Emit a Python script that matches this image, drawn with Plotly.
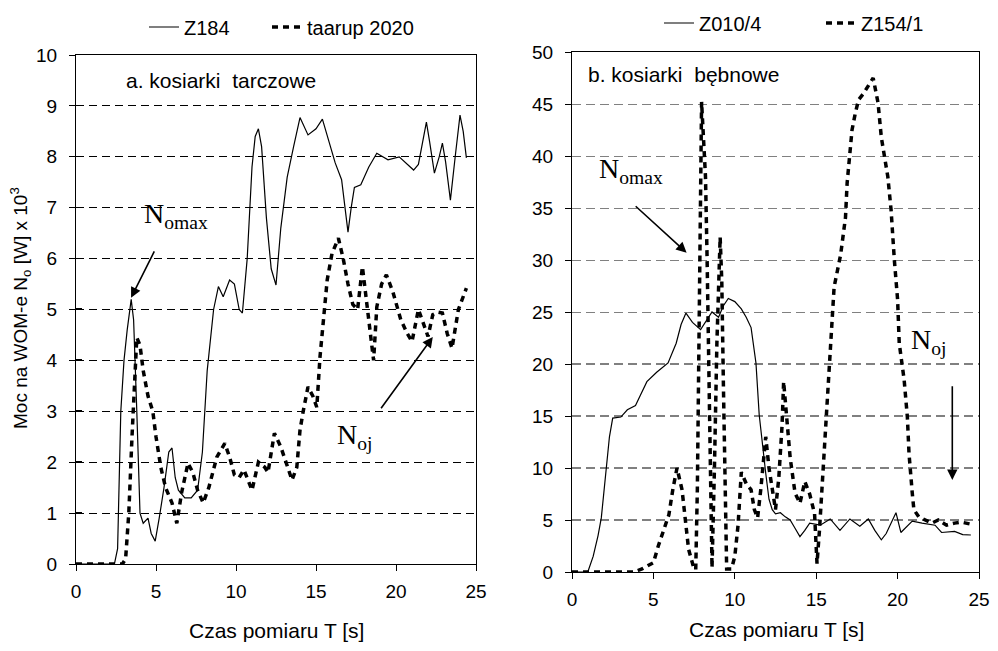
import plotly.graph_objects as go

# ---- data: panel a (disc mowers), time [s] and power [kW] ----
t_z184 = [0, 2.4, 2.6, 2.8, 3.0, 3.2, 3.45, 3.6, 3.8, 4.0, 4.2, 4.5, 4.7, 4.95, 5.2, 5.5, 5.8, 6.0,
          6.2, 6.4, 6.8, 7.2, 7.6, 7.9, 8.2, 8.6, 8.9, 9.2, 9.6, 9.9, 10.2, 10.4, 10.7, 11.0, 11.2,
          11.4, 11.6, 11.9, 12.2, 12.5, 12.8, 13.2, 13.6, 14.0, 14.5, 15.0, 15.4, 15.8, 16.2, 16.6,
          17.0, 17.2, 17.4, 17.8, 18.3, 18.8, 19.5, 20.2, 20.9, 21.1, 21.4, 21.9, 22.1, 22.4, 22.7,
          22.9, 23.1, 23.4, 23.7, 24.0, 24.2, 24.4]
n_z184 = [0, 0, 0.3, 3.0, 4.0, 4.6, 5.2, 4.8, 3.0, 1.0, 0.8, 0.9, 0.6, 0.45, 0.9, 1.5, 2.2, 2.28,
          1.7, 1.45, 1.3, 1.3, 1.45, 2.2, 3.8, 5.0, 5.45, 5.25, 5.58, 5.5, 5.0, 4.93, 6.0, 7.8, 8.4,
          8.55, 8.2, 6.8, 5.8, 5.48, 6.6, 7.6, 8.2, 8.77, 8.43, 8.55, 8.74, 8.3, 7.88, 7.55,
          6.52, 7.0, 7.4, 7.45, 7.8, 8.07, 7.94, 8.0, 7.8, 7.74, 7.85, 8.68, 8.3, 7.68, 8.0,
          8.27, 7.9, 7.15, 8.0, 8.82, 8.5, 7.98]

t_taarup = [0, 2.9, 3.1, 3.3, 3.5, 3.65, 3.8, 4.0, 4.2, 4.5, 4.8, 5.0, 5.3, 5.6, 6.0, 6.3, 6.6, 7.0,
            7.3, 7.6, 7.95, 8.3, 8.8, 9.3, 9.6, 9.9, 10.2, 10.5, 11.0, 11.4, 11.8, 12.0, 12.4, 12.8,
            13.1, 13.5, 13.8, 14.0, 14.2, 14.5, 14.8, 15.05, 15.25, 15.5, 15.7, 16.0, 16.4, 16.7,
            17.0, 17.3, 17.6, 17.9, 18.1, 18.4, 18.6, 18.8, 19.1, 19.4, 19.8, 20.3, 20.7, 21.0,
            21.4, 21.9, 22.0, 22.3, 22.6, 22.9, 23.2, 23.5, 23.7, 23.9, 24.4]
n_taarup = [0, 0, 0.1, 1.0, 2.5, 3.5, 4.45, 4.3, 3.8, 3.3, 3.0, 2.5, 1.9, 1.5, 1.2, 0.8, 1.4, 1.98,
            1.8, 1.45, 1.2, 1.5, 2.1, 2.37, 2.1, 1.75, 1.7, 1.85, 1.45, 2.0, 1.9, 1.8, 2.57, 2.3,
            2.0, 1.65, 1.9, 2.63, 3.0, 3.48, 3.3, 3.08, 4.07, 5.0, 5.58, 6.1, 6.4, 6.0,
            5.5, 5.1, 5.0, 5.84, 5.3, 4.4, 4.0, 5.05, 5.5, 5.68, 5.35, 4.8, 4.53, 4.37,
            5.0, 4.56, 4.47, 4.9, 4.95, 4.93, 4.53, 4.24, 4.6, 5.0, 5.42]

# ---- data: panel b (drum mowers) ----
t_z010 = [0, 0.97, 1.3, 1.6, 1.8, 2.1, 2.3, 2.5, 3.0, 3.4, 3.9, 4.2, 4.6, 5.2, 5.9, 6.4, 6.7, 7.0,
          7.4, 7.9, 8.2, 8.6, 9.0, 9.3, 9.6, 10.0, 10.4, 10.7, 11.0, 11.2, 11.3, 11.5, 11.7, 11.9,
          12.1, 12.3, 12.5, 12.8, 13.1, 13.4, 13.7, 14.0, 14.3, 14.6, 15.25, 15.86, 16.46, 17.07,
          17.68, 18.2, 18.6, 19.0, 19.3, 19.9, 20.2, 20.9, 21.5, 22.3, 22.7, 23.5, 24.0, 24.5]
n_z010 = [0, 0, 1.5, 3.5, 5.2, 10.1, 13.0, 14.8, 14.9, 15.6, 16.0, 17.0, 18.3, 19.2, 20.1, 22.0, 23.8, 24.9,
          24.0, 23.3, 24.0, 25.0, 24.5, 25.6, 26.3, 26.0, 25.3, 24.5, 23.5, 21.0, 20.1, 15.1, 12.0, 9.5,
          7.0, 6.0, 5.6, 5.7, 5.3, 5.0, 4.2, 3.4, 4.0, 4.7, 4.5, 5.1, 4.0, 5.1,
          4.4, 5.1, 4.0, 3.1, 3.7, 5.7, 3.8, 4.9, 4.7, 4.5, 3.8, 3.9, 3.6, 3.56]

t_z154 = [0, 3.8, 4.3, 4.7, 5.0, 5.3, 5.6, 5.95, 6.2, 6.45, 6.76, 6.96, 7.16, 7.46, 7.6, 7.7, 7.8,
          7.9, 7.96, 8.1, 8.2, 8.3, 8.4, 8.5, 8.6, 8.75, 8.9, 9.1, 9.2, 9.3, 9.4, 9.5, 9.8, 10.0,
          10.2, 10.4, 10.7, 11.0, 11.2, 11.4, 11.6, 11.9, 12.1, 12.4, 12.5, 12.7, 12.9, 13.0, 13.2,
          13.4, 13.7, 14.0, 14.3, 14.6, 14.9, 15.05, 15.2, 15.4, 15.5, 15.8, 16.0, 16.1, 16.5,
          16.8, 16.9, 17.1, 17.2, 17.4, 17.6, 17.9, 18.2, 18.5, 18.8, 19.0, 19.4, 19.6, 19.8,
          20.0, 20.1, 20.4, 20.6, 20.7, 20.9, 21.0, 21.3, 21.7, 22.1, 22.5, 23.0, 23.5, 23.9, 24.5]
n_z154 = [0, 0, 0.3, 0.6, 0.9, 2.5, 4.0, 5.5, 8.0, 10.0, 7.9, 5.0, 2.2, 0.5, 0.2, 8.0, 20.0,
          35.0, 45.2, 41.0, 38.0, 30.0, 20.0, 8.0, 0.4, 10.0, 22.0, 32.2, 28.0, 18.0, 8.0, 0.3, 0.3, 1.5,
          4.5, 9.6, 8.5, 7.9, 6.0, 5.2, 8.0, 13.0, 10.0, 6.9, 6.0, 9.0, 14.0, 18.3, 15.0,
          11.0, 7.6, 6.6, 8.7, 7.5, 5.6, 0.8, 4.0, 9.0, 12.7, 19.7, 25.0, 27.4, 30.5,
          34.1, 37.4, 40.9, 42.5, 44.1, 45.4, 46.0, 46.7, 47.5, 45.1, 41.8, 38.0, 34.8, 30.0,
          26.2, 22.0, 18.5, 14.9, 11.4, 7.6, 6.0, 5.3, 5.0, 4.7, 5.0, 4.5, 4.7, 4.8, 4.6]

x_ticks = [0, 5, 10, 15, 20, 25]
y_ticks_a = list(range(0, 11))
y_ticks_b = list(range(0, 51, 5))

FONT = "Liberation Sans, Arial, sans-serif"
SERIF = "Liberation Serif, Times New Roman, serif"
DASH = "6px,5px"

# page body has an 8px margin: figure is sized so page == window
OFF = 8
W, H = 998 - 2 * OFF, 651 - 2 * OFF
def px(x): return (x - OFF) / W
def py(y): return 1 - (y - OFF) / H

fig = go.Figure()
fig.add_trace(go.Scatter(x=t_z184, y=n_z184, mode="lines", name="Z184",
                         line=dict(color="black", width=1.2), xaxis="x", yaxis="y", legend="legend"))
fig.add_trace(go.Scatter(x=t_taarup, y=n_taarup, mode="lines", name="taarup 2020",
                         line=dict(color="black", width=3.5, dash=DASH), xaxis="x", yaxis="y", legend="legend2"))
fig.add_trace(go.Scatter(x=t_z010, y=n_z010, mode="lines", name="Z010/4",
                         line=dict(color="black", width=1.2), xaxis="x2", yaxis="y2", legend="legend3"))
fig.add_trace(go.Scatter(x=t_z154, y=n_z154, mode="lines", name="Z154/1",
                         line=dict(color="black", width=3.5, dash=DASH), xaxis="x2", yaxis="y2", legend="legend4"))

axis_common = dict(showline=True, linecolor="black", linewidth=1, mirror=True,
                   ticks="outside", ticklen=6, tickcolor="black", tickwidth=1,
                   tickfont=dict(family=FONT, size=19, color="black"), zeroline=False)

LF = dict(family=FONT, size=20, color="black")
def leg(xp, yp):
    return dict(orientation="h", x=px(xp), y=py(yp), xanchor="left", yanchor="middle",
                font=LF, bgcolor="rgba(0,0,0,0)", itemwidth=30, tracegroupgap=0)

fig.update_layout(
    width=W, height=H, paper_bgcolor="white", plot_bgcolor="white",
    margin=dict(l=0, r=0, t=0, b=0, autoexpand=False),
    xaxis=dict(domain=[px(76), px(476)], range=[0, 25], tickvals=x_ticks, showgrid=False,
               anchor="y", ticklabelstandoff=4, **axis_common),
    yaxis=dict(domain=[py(564), py(55)], range=[0, 10], tickvals=y_ticks_a, showgrid=True,
               gridcolor="black", griddash="8px,5px", gridwidth=1, anchor="x",
               ticklabelstandoff=8,
               minor=dict(tickvals=[v + 0.01 for v in y_ticks_a], ticks="inside", ticklen=6,
                          tickcolor="black", showgrid=False),
               **axis_common),
    xaxis2=dict(domain=[px(572), px(979)], range=[0, 25], tickvals=x_ticks, showgrid=False,
                anchor="y2", ticklabelstandoff=4, ticklabeloverflow="allow", **axis_common),
    yaxis2=dict(domain=[py(572), py(52)], range=[0, 50], tickvals=y_ticks_b, showgrid=True,
                gridcolor="#808080", griddash="9px,5px", gridwidth=1, anchor="x2",
                ticklabelstandoff=8, **axis_common),
    legend=leg(144, 27),
    legend2=leg(267, 27),
    legend3=leg(659, 23),
    legend4=leg(821, 23),
    showlegend=True,
)

# darker gridlines for the lower part of panel b
for v in [5, 10, 15, 20]:
    fig.add_shape(type="line", xref="x2", yref="y2", x0=0, x1=25, y0=v, y1=v,
                  line=dict(color="black", width=1, dash="9px,5px"), layer="below")

TF = dict(family=FONT, size=21, color="black")
ann = []
# axis titles
ann.append(dict(xref="paper", yref="paper", x=px(276), y=py(630), text="Czas pomiaru T [s]",
                showarrow=False, font=TF, xanchor="center", yanchor="middle"))
ann.append(dict(xref="paper", yref="paper", x=px(776), y=py(629), text="Czas pomiaru T [s]",
                showarrow=False, font=TF, xanchor="center", yanchor="middle"))
ann.append(dict(xref="paper", yref="paper", x=px(20), y=py(308), textangle=-90,
                text="Moc na WOM-e N<sub>o</sub> [W] x 10<sup>3</sup>",
                showarrow=False, font=dict(family=FONT, size=19, color="black"),
                xanchor="center", yanchor="middle"))
# panel labels
ann.append(dict(xref="x", yref="y", x=3.0, y=9.5, text="a. kosiarki\u00a0\u00a0tarczowe",
                showarrow=False, font=TF, xanchor="left", yanchor="middle"))
ann.append(dict(xref="x2", yref="y2", x=0.85, y=47.8, text="b. kosiarki\u00a0\u00a0bębnowe",
                showarrow=False, font=TF, xanchor="left", yanchor="middle"))
# N labels
serif = dict(family=SERIF, size=28, color="black")
ann.append(dict(xref="x", yref="y", x=6.25, y=6.85, text="N<sub>omax</sub>", showarrow=False,
                font=serif, xanchor="center", yanchor="middle"))
ann.append(dict(xref="x", yref="y", x=17.4, y=2.5, text="N<sub>oj</sub>", showarrow=False,
                font=serif, xanchor="center", yanchor="middle"))
ann.append(dict(xref="x2", yref="y2", x=3.64, y=38.6, text="N<sub>omax</sub>", showarrow=False,
                font=serif, xanchor="center", yanchor="middle"))
ann.append(dict(xref="x2", yref="y2", x=21.9, y=22.2, text="N<sub>oj</sub>", showarrow=False,
                font=serif, xanchor="center", yanchor="middle"))
# arrows
arrow = dict(text="", showarrow=True, arrowhead=2, arrowsize=1.3, arrowwidth=1.6,
             arrowcolor="black", standoff=0, startstandoff=0)
ann.append(dict(xref="x", yref="y", axref="x", ayref="y", x=3.44, y=5.23, ax=4.94, ay=6.17, **arrow))
ann.append(dict(xref="x", yref="y", axref="x", ayref="y", x=22.3, y=4.46, ax=19.0, ay=3.03, **arrow))
ann.append(dict(xref="x2", yref="y2", axref="x2", ayref="y2", x=7.04, y=30.7, ax=3.82, ay=35.3, **arrow))
ann.append(dict(xref="x2", yref="y2", axref="x2", ayref="y2", x=23.36, y=8.85, ax=23.36, ay=18.0, **arrow))
fig.update_layout(annotations=ann)

fig.write_html("out.html")
